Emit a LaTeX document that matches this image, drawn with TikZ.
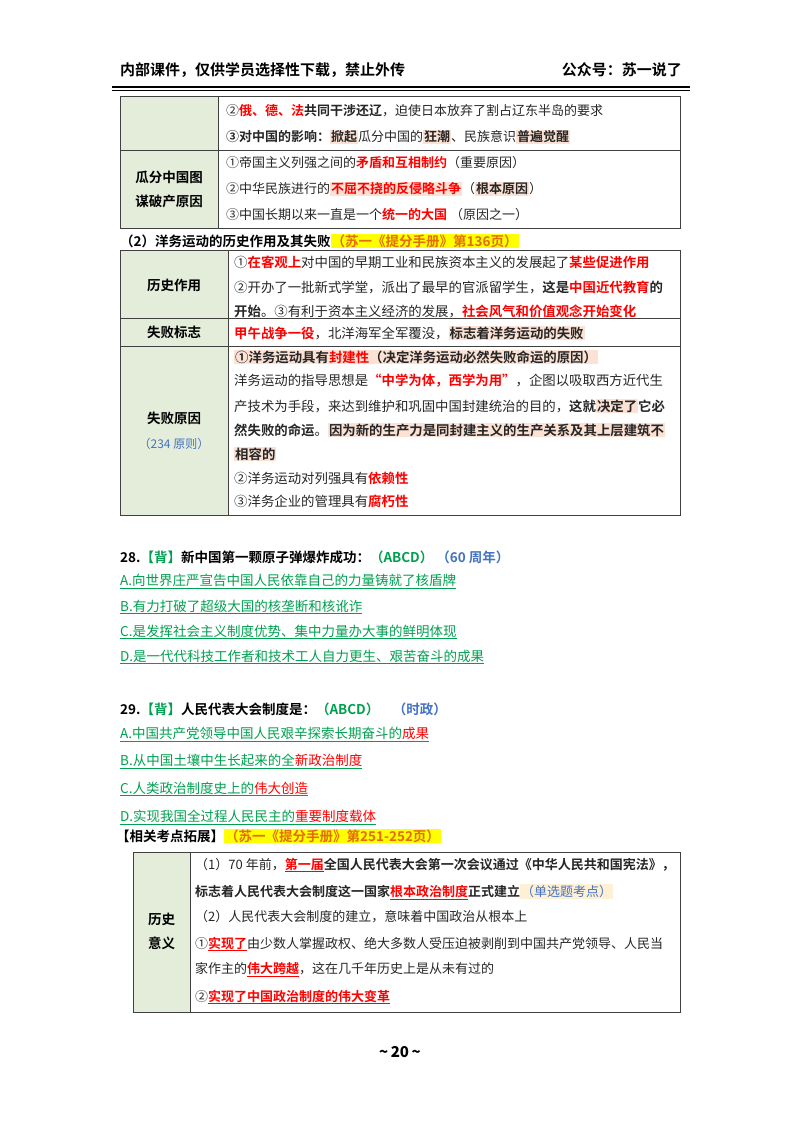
\documentclass[tikz,border=0pt]{standalone}
\usepackage{fontspec}
\setmainfont{Noto Sans CJK SC}
\newfontfamily\bfcjk{Noto Sans CJK SC Bold}
\usepackage{xcolor}
\definecolor{gcell}{HTML}{E3EDD9}
\definecolor{hlp}{HTML}{FBE2D5}
\definecolor{hly}{HTML}{FFFF00}
\definecolor{rd}{HTML}{FF0000}
\definecolor{gr}{HTML}{00A050}
\definecolor{bl}{HTML}{4472C4}
\definecolor{or}{HTML}{E46C0A}
\definecolor{cream}{HTML}{FDF0D5}
\newcommand{\hlb}[2][hlp]{{\setlength{\fboxsep}{1pt}\colorbox{#1}{#2}}}
\newcommand{\R}[1]{\textcolor{rd}{#1}}
\newcommand{\B}[1]{{\bfcjk #1}}
\newcommand{\RB}[1]{{\bfcjk\color{rd}#1}}
\newcommand{\RU}[1]{\textcolor{rd}{\underline{#1}}}
\tikzset{t/.style={anchor=west,inner sep=0pt,font=\fontsize{13}{15}\selectfont,text=black!85},
 tb/.style={t,font=\fontsize{13.4}{16}\selectfont},
 hd/.style={anchor=center,inner sep=0pt,align=center,font=\fontsize{13.5}{24}\bfcjk},
 tl/.style={draw=black!75,line width=0.8pt},
 opt/.style={anchor=west,inner sep=0pt,font=\fontsize{13.5}{15}\selectfont,text=gr}}
\begin{document}
\begin{tikzpicture}[x=1pt,y=-1pt]
\useasboundingbox (0,0) rectangle (800,1132);
\fill[white] (0,0) rectangle (800,1132);
% header
\node[anchor=west,inner sep=0pt,font=\fontsize{15}{17}\bfcjk] (h1) at (120,70) {内部课件，仅供学员选择性下载，禁止外传};
\node[anchor=east,inner sep=0pt,font=\fontsize{15}{17}\bfcjk] (h2) at (682,70) {公众号：苏一说了};
\draw[line width=1.2pt] (112,87) -- (690,87);
\draw[line width=0.5pt] (112,90) -- (690,90);
% table 1
\fill[gcell] (120,96) rectangle (218,228);
\draw[tl] (120,96) rectangle (680,228) (218,96) -- (218,228) (120,150) -- (680,150);
\node[hd] (c1) at (169,189) {瓜分中国图\\谋破产原因};
\node[t] (a1) at (226,111) {②\RB{俄、德、法}\B{共同干涉还辽}，迫使日本放弃了割占辽东半岛的要求};
\node[t] (a2) at (226,137) {\B{③对中国的影响：}\hlb{\B{掀起}}瓜分中国的\hlb{\B{狂潮}}、民族意识\hlb{\B{普遍觉醒}}};
\node[t] (a3) at (226,163) {①帝国主义列强之间的\RB{矛盾和互相制约}（重要原因）};
\node[t] (a4) at (226,189) {②中华民族进行的\hlb{\RB{不屈不挠的反侵略斗争}}（\hlb{\B{根本原因}}）};
\node[t] (a5) at (226,215) {③中国长期以来一直是一个\RB{统一的大国}\ （原因之一）};
% title 2
\node[anchor=west,inner sep=0pt,font=\fontsize{13.5}{15}\bfcjk] (s2) at (120,241) {（2）洋务运动的历史作用及其失败\hlb[hly]{\textcolor{or}{（苏一《提分手册》第136页）}}};
% table 2
\fill[gcell] (120,250) rectangle (228,515);
\draw[tl] (120,250) rectangle (680,515) (228,250) -- (228,515) (120,318) -- (680,318) (120,346) -- (680,346);
\node[hd] (c2) at (174,285) {历史作用};
\node[hd] (c3) at (174,332) {失败标志};
\node[hd] (c4) at (174,418) {失败原因};
\node[anchor=center,inner sep=0pt,font=\fontsize{12}{14}\selectfont,text=bl] (c5) at (174,444) {（234 原则）};
\node[tb] (b1) at (234,262) {①\RB{在客观上}对中国的早期工业和民族资本主义的发展起了\RB{某些促进作用}};
\node[tb] (b2) at (234,287) {②开办了一批新式学堂，派出了最早的官派留学生，\B{这是}\RB{中国近代教育}\B{的}};
\node[tb] (b3) at (234,311) {\B{开始}。③有利于资本主义经济的发展，\RB{社会风气和价值观念开始变化}};
\node[tb] (b4) at (234,333) {\RB{甲午战争一役}，北洋海军全军覆没，\hlb{\B{标志着洋务运动的失败}}};
\node[tb] (b5) at (234,357) {\hlb{\B{①洋务运动具有}\RB{封建性}\B{（决定洋务运动必然失败命运的原因）}}};
\node[tb] (b6) at (234,381) {洋务运动的指导思想是\RB{“中学为体，西学为用”}，企图以吸取西方近代生};
\node[tb] (b7) at (234,406) {产技术为手段，来达到维护和巩固中国封建统治的目的，\B{这就}\hlb{\B{决定了}}\B{它必}};
\node[tb] (b8) at (234,430) {\B{然失败的命运}。\hlb{\B{因为新的生产力是同封建主义的生产关系及其上层建筑不}}};
\node[tb] (b9) at (234,454) {\hlb{\B{相容的}}};
\node[tb] (b10) at (234,478) {②洋务运动对列强具有\RB{依赖性}};
\node[tb] (b11) at (234,501) {③洋务企业的管理具有\RB{腐朽性}};
% Q28
\node[anchor=west,inner sep=0pt,font=\fontsize{13.5}{15}\bfcjk] (q28) at (120,557) {28.\textcolor{gr}{【背】}新中国第一颗原子弹爆炸成功：\textcolor{gr}{（ABCD）}\ \textcolor{bl}{（60 周年）}};
\node[opt] (o1) at (120,581) {\underline{A.向世界庄严宣告中国人民依靠自己的力量铸就了核盾牌}};
\node[opt] (o2) at (120,607) {\underline{B.有力打破了超级大国的核垄断和核讹诈}};
\node[opt] (o3) at (120,632) {\underline{C.是发挥社会主义制度优势、集中力量办大事的鲜明体现}};
\node[opt] (o4) at (120,657) {\underline{D.是一代代科技工作者和技术工人自力更生、艰苦奋斗的成果}};
% Q29
\node[anchor=west,inner sep=0pt,font=\fontsize{13.5}{15}\bfcjk] (q29) at (120,709) {29.\textcolor{gr}{【背】}人民代表大会制度是：\textcolor{gr}{（ABCD）}\quad\textcolor{bl}{（时政）}};
\node[opt] (p1) at (120,734) {\underline{A.中国共产党领导中国人民艰辛探索长期奋斗的\textcolor{rd}{成果}}};
\node[opt] (p2) at (120,761) {\underline{B.从中国土壤中生长起来的全\textcolor{rd}{新政治制度}}};
\node[opt] (p3) at (120,789) {\underline{C.人类政治制度史上的\textcolor{rd}{伟大创造}}};
\node[opt] (p4) at (120,817) {\underline{D.实现我国全过程人民民主的\textcolor{rd}{重要制度载体}}};
\node[anchor=west,inner sep=0pt,font=\fontsize{13.5}{15}\bfcjk] (ext) at (116,836) {【相关考点拓展】\hlb[hly]{\textcolor{or}{（苏一《提分手册》第251-252页）}}};
% table 3
\fill[gcell] (133,852) rectangle (190,1012);
\draw[tl] (133,852) rectangle (680,1012) (190,852) -- (190,1012);
\node[hd] (c6) at (161.5,931) {历史\\意义};
\node[t] (d1) at (195,865) {（1）70 年前，\RU{\B{第一届}}\B{全国人民代表大会第一次会议通过《中华人民共和国宪法》，}};
\node[t] (d2) at (195,892) {\B{标志着人民代表大会制度这一国家}\RU{\B{根本政治制度}}\B{正式建立}\hlb[cream]{\textcolor{bl}{（单选题考点）}}};
\node[t] (d3) at (195,917) {（2）人民代表大会制度的建立，意味着中国政治从根本上};
\node[t] (d4) at (195,944) {①\RU{\B{实现了}}由少数人掌握政权、绝大多数人受压迫被剥削到中国共产党领导、人民当};
\node[t] (d5) at (195,970) {家作主的\RU{\B{伟大跨越}}，这在几千年历史上是从未有过的};
\node[t] (d6) at (195,997) {②\RU{\B{实现了中国政治制度的伟大变革}}};
% page number
\node[anchor=center,inner sep=0pt,font=\fontsize{15}{17}\bfseries] (pg) at (400,1052) {\textasciitilde\,20\,\textasciitilde};
\end{tikzpicture}
\end{document}
